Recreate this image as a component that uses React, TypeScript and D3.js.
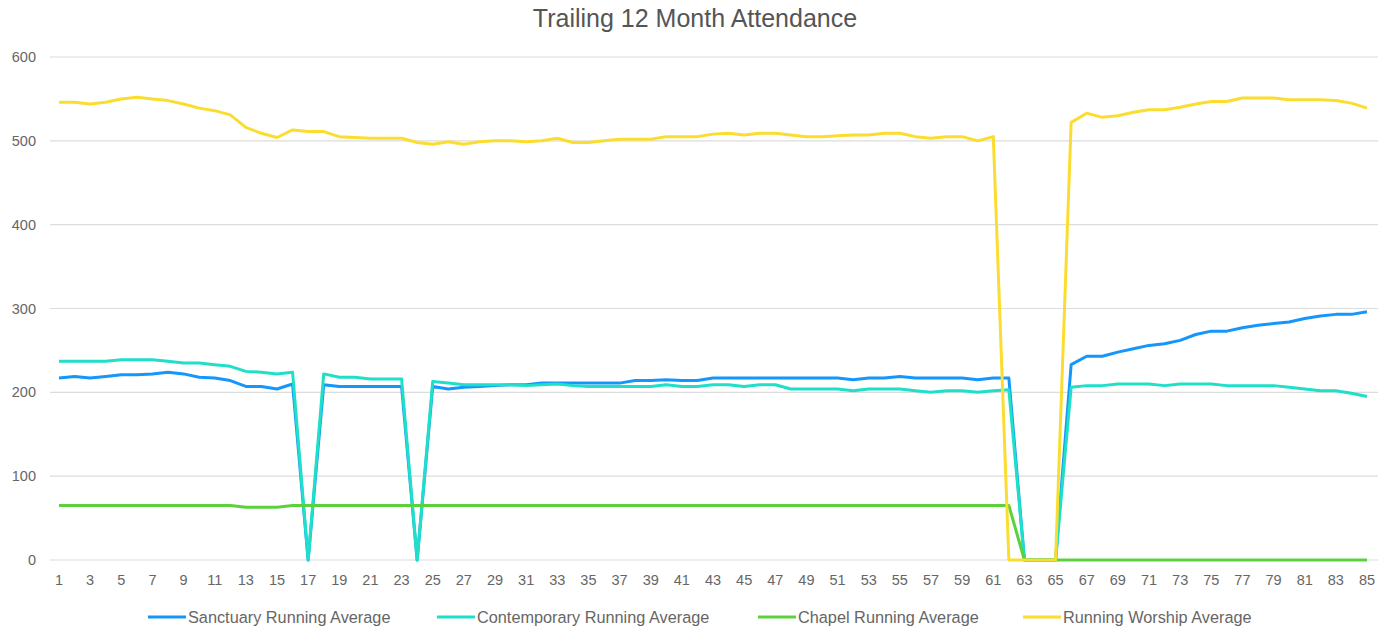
import * as d3 from "d3";

const months = d3.range(1, 86).map(String);
const yTicks = [0, 100, 200, 300, 400, 500, 600];

const sanctuary = [
  217, 219, 217, 219, 221, 221, 222, 224, 222, 218, 217, 214, 207, 207, 204, 210, 0, 209, 207, 207,
  207, 207, 207, 0, 207, 204, 206, 207, 208, 209, 209, 211, 211, 211, 211, 211, 211, 214, 214, 215,
  214, 214, 217, 217, 217, 217, 217, 217, 217, 217, 217, 215, 217, 217, 219, 217, 217, 217, 217, 215,
  217, 217, 0, 0, 0, 233, 243, 243, 248, 252, 256, 258, 262, 269, 273, 273, 277, 280, 282, 284,
  288, 291, 293, 293, 296,
];
const contemporary = [
  237, 237, 237, 237, 239, 239, 239, 237, 235, 235, 233, 231, 225, 224, 222, 224, 0, 222, 218, 218,
  216, 216, 216, 0, 213, 211, 209, 209, 209, 209, 208, 209, 210, 208, 207, 207, 207, 207, 207, 209,
  207, 207, 209, 209, 207, 209, 209, 204, 204, 204, 204, 202, 204, 204, 204, 202, 200, 202, 202, 200,
  202, 203, 0, 0, 0, 206, 208, 208, 210, 210, 210, 208, 210, 210, 210, 208, 208, 208, 208, 206,
  204, 202, 202, 199, 195,
];
const chapel = [
  65, 65, 65, 65, 65, 65, 65, 65, 65, 65, 65, 65, 63, 63, 63, 65, 65, 65, 65, 65,
  65, 65, 65, 65, 65, 65, 65, 65, 65, 65, 65, 65, 65, 65, 65, 65, 65, 65, 65, 65,
  65, 65, 65, 65, 65, 65, 65, 65, 65, 65, 65, 65, 65, 65, 65, 65, 65, 65, 65, 65,
  65, 65, 0, 0, 0, 0, 0, 0, 0, 0, 0, 0, 0, 0, 0, 0, 0, 0, 0, 0,
  0, 0, 0, 0, 0,
];
const worship = [
  546, 546, 544, 546, 550, 552, 550, 548, 544, 539, 536, 531, 516, 509, 504, 513, 511, 511, 505, 504,
  503, 503, 503, 498, 496, 499, 496, 499, 500, 500, 499, 500, 503, 498, 498, 500, 502, 502, 502, 505,
  505, 505, 508, 509, 507, 509, 509, 507, 505, 505, 506, 507, 507, 509, 509, 505, 503, 505, 505, 500,
  505, 0, 0, 0, 0, 522, 533, 528, 530, 534, 537, 537, 540, 544, 547, 547, 551, 551, 551, 549,
  549, 549, 548, 545, 539,
];

const seriesNames = [
  "Sanctuary Running Average",
  "Contemporary Running Average",
  "Chapel Running Average",
  "Running Worship Average",
];
const seriesColors = ["#1596fb", "#20dfc8", "#5bd23c", "#fbdd2f"];
const seriesValues = [sanctuary, contemporary, chapel, worship];

const W = 1387, H = 628;
const FONT = "'Liberation Sans', Arial, Helvetica, sans-serif";

export default function App() {
  const x = d3.scalePoint<string>().domain(months).range([59, 1367]);
  const y = d3.scaleLinear().domain([0, 600]).range([560, 57]);
  const line = d3.line<number>().x((_, i) => x(months[i]) ?? 0).y((d) => y(d));

  // legend item starts, picked to sit like the original's
  const legendX = [148, 437, 758, 1023];

  return (
    <svg width={W} height={H} style={{ position: "absolute", left: 0, top: 0, background: "#fff" }} fontFamily={FONT}>
      <text x={695} y={27} textAnchor="middle" fontSize={25} fill="#555">Trailing 12 Month Attendance</text>

      {yTicks.map((t) => (
        <g key={t}>
          <line x1={50} x2={1378} y1={y(t)} y2={y(t)} stroke="#dcdcdc" strokeWidth={1.2} />
          <text x={36} y={y(t) + 5} textAnchor="end" fontSize={14.5} fill="#666">{t}</text>
        </g>
      ))}

      {months.filter((_, i) => i % 2 === 0).map((m) => (
        <text key={m} x={x(m)} y={585} textAnchor="middle" fontSize={14.5} fill="#666">{m}</text>
      ))}

      {seriesValues.map((vals, k) => (
        <path key={k} d={line(vals) ?? ""} fill="none" stroke={seriesColors[k]} strokeWidth={3} strokeLinejoin="round" />
      ))}

      {seriesNames.map((n, k) => (
        <g key={n} transform={`translate(${legendX[k]},617)`}>
          <line x1={0} x2={38} y1={0} y2={0} stroke={seriesColors[k]} strokeWidth={3} />
          <text x={40} y={5.5} fontSize={16.3} fill="#666">{n}</text>
        </g>
      ))}
    </svg>
  );
}
